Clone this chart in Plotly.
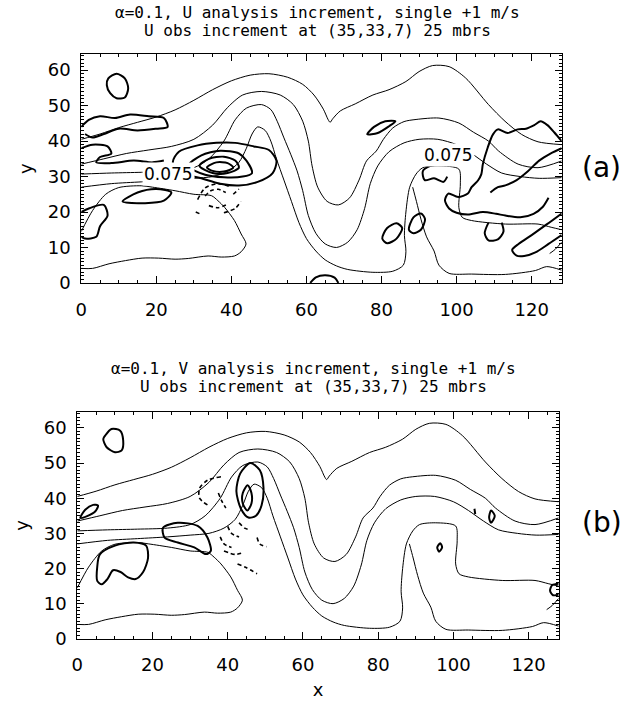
import plotly.graph_objects as go

# ---------------- background (thin) contours, shared by both panels: (x, y)
BG1 = [(0,40.5),(5,42),(10,43.8),(15,45.3),(20,46.8),(25,48.8),(30,51.5),(35,54.5),(40,57),(45,58.6),(50,59),
       (55,58),(59,56),(62,53),(64.5,49),(65.8,46),(66.3,45.3),(67,46.3),(69,48.5),(73,50.5),(77.7,53),(82,54.5),
       (86.5,56.8),(90,59.6),(93.6,61.3),(98,61),(102.4,57.8),(108.5,50.3),(112.9,45.6),(117.3,41.9),
       (121.7,39.8),(128,39)]
BG2 = [(0,33.5),(6,35),(12,36.5),(18,37.5),(24,38.5),(30,40.5),(35,44.5),(39,49.5),(43,53),(48,54),(53,53),
       (56.5,50.3),(59,45.6),(60.5,40),(61.5,33),(63,27),(65.5,23),(68.5,22),(71.5,24),(74,29),(76,34.4),
       (78.6,37.2),(80.5,40.5),(83,43.7),(86,45.5),(89.2,46.1),(95.3,46.5),(100.6,45.1),(104.5,42.5),(108.5,40),
       (111.2,37.2),(116.4,33.5),(121.7,32.5),(128,34.4)]
BG3 = [(0,30.7),(8,31),(16,31.2),(24,31.5),(30,32.5),(34,35),(38,40),(41,46),(44,49.3),(48,50.3),(50.5,48.9),
       (52.2,45.6),(54,40.9),(55.8,36.3),(57.5,31.6),(59,26),(60.5,19),(62.5,14),(65,11),(68,10),(71,11.5),
       (73.5,15),(75.5,21),(77,28),(79,33),(82,37),(86,39.5),(90,40.5),(95,40.5),(100,39),(104,36.5),(108,33.5),
       (112,31),(117,30),(122,29.5),(128,29.7)]
BG4 = [(0,27),(8,28),(16,28.5),(24,29),(30,29.5),(35,30),(39,31.5),(42,34),(44,38),(45.5,42),(47,44),(49,43),
       (50.5,40),(52,35),(54,29),(56,23),(58,17),(60,12.5),(62.5,9),(65,6.5),(68,4.8),(71,3.8),(77.7,3),(83,3.3),
       (85.8,5),(86.5,8.8),(86.1,13.4),(86.5,20),(87.5,27),(89.2,30.7),(91,32.5),(95.3,33),(100.6,32.1),
       (101,27.9),(100.6,21.3),(101.5,18.5),(104,17.6),(113,16.6),(121.7,16.6),(125.2,15.7),(128,15)]
BG5 = [(0,14.5),(3,20.4),(6.5,25),(10,26.9),(16,27.4),(19,27),(25,26),(30,25),(34.7,24.6),(36.4,23.2),
       (38.2,21.3),(40.8,17.6),(42.6,13.8),(43.9,11),(42.6,8.8),(40.8,7.6),(37.3,7.3),(33.8,7.6),(28.5,6.9),
       (25,6.7),(20.6,7),(16.2,7),(11.8,6.3),(7.4,5.4),(3,4.1),(0,4.1)]
BG6 = [(128,3.6),(124,4.6),(121,3.5),(113,2.4),(104,2.5),(98,2.7),(95.3,5),(94,9),(92,13),(90.5,18),(89.3,23),
       (88.3,27)]
BG7 = [(128,11.5),(126.3,9.5),(124.8,8.3)]
BACKGROUND = [BG1, BG2, BG3, BG4, BG5, BG6, BG7]

# ---------------- panel (a): U analysis increment (thick); solid = positive, dashed = negative
A_POS = [
    [(7.2,57.7),(9.4,59),(11.6,57.7),(12.5,54.9),(11.6,52.3),(9.4,52.1),(7.7,53.5),(6.8,55.8),(7.2,57.7)],
    [(0,44),(2,46),(5,47),(9,46.5),(13,47.5),(18,47),(22,46.5),(23,44),(20,43.5),(15,43),(10,43.5),(6,42),
     (3,41),(1,42)],
    [(0,38),(3,39),(7,38.5),(8,36.5),(5,35.5),(4,34),(8,33.8),(14,34.5),(19,34),(22,34.5)],
    [(24.4,34),(26,37),(31,38.8),(36,39.5),(41,39.5),(46,38.5),(50,37.5),(52,34.5),(51,31),(47,28.5),(42,27.5),
     (37,28),(32,29.5),(27,31),(24.4,34)],
    [(28.5,33),(32,36),(37,37.3),(42,36.5),(44,34.5),(45.5,31),(43,30),(38,29.8),(33,30.5),(28.5,33)],
    [(31.5,33),(34,35),(38,35.6),(41,34.5),(42,32.5),(39,31),(35,31),(31.5,33)],
    [(33.5,32.6),(36,34),(39,33.8),(40.5,32.5),(38,31.4),(35,31.6),(33.5,32.6)],
    [(11,23),(15,25.5),(20,26.5),(24,25.5),(22,23.2),(17,22.5),(11,23)],
    [(0,20),(2,21),(6,22),(7,19),(5,16),(4,13),(1,12.5),(0,13)],
    [(61,0),(62.5,1.6),(65,2.2),(67.5,1.5),(68.5,0)],
    [(76.2,41.9),(78,44),(81,45.6),(83.7,45.6),(82,44.2),(79,42.3),(76.2,41.9)],
    [(80.2,12.5),(81.5,15.5),(84,16.8),(85.5,15.5),(84,12.5),(81.5,11.2),(80.2,12.5)],
    [(87.3,15),(88.5,18.5),(90.5,19.6),(91.6,18),(90.5,15),(88.5,14),(87.3,15)],
    [(128,40),(126,42.5),(124.2,44.5),(122.4,45.6),(120.7,44.5),(118.5,43.5),(116.3,43.3),(113.6,42.3),
     (111,43.3),(109.7,41.9),(108.3,38.2),(107,33.5),(106.6,30.7),(105.7,28.9),(104,27),(103,25.2),
     (100.4,24.2),(97.8,25.2),(96.9,23.3),(98,21),(100,19.8),(103,19.3),(107,20),(110.5,19.5),(113,19),
     (117,18.5),(120.5,19.5),(123,21.5),(124.5,24)],
    [(128,38),(125,36.5),(122,34.5),(119,31.5),(116,29),(113,27.5),(111,27),(109,25.5)],
    [(96,33.5),(93,33),(91,31.5),(91.5,29),(94,29.5),(96.5,28.5),(97.5,30)],
    [(108.5,17),(107.5,14),(108.5,12),(111,12.3),(112.5,14.5),(112,17)],
    [(128,19.6),(124,16.5),(120,13.5),(116.5,11),(114.8,9.3),(116,7.7),(118,7.6),(121,8.6),(124.5,11),
     (128,13.5)],
]
A_NEG = [
    [(33,24.5),(34.5,26),(36.5,26.4),(38.5,25.5)],
    [(31,23.5),(33,26.8),(36.5,28),(40,27)],
    [(34,21.8),(36.5,21.2),(39,22.2)],
    [(30.5,20),(32,19.3)],
    [(38,19.8),(41,21),(42.5,23)],
    [(40.5,25),(42,26.5)],
]
A_LABELS = [("0.075", 23.3, 30.7), ("0.075", 97.8, 36.2)]

# ---------------- panel (b): V analysis increment
B_POS = [
    [(7.4,57.8),(9.1,59.7),(11.4,59.2),(12.2,56.4),(11.8,53.6),(10,53.1),(7.8,54.5),(6.9,56.8),(7.4,57.8)],
    [(0.8,34.4),(2.1,36.7),(4.2,38.1),(5.5,37.9),(4.8,36.3),(2.6,34.9),(0.8,34.4)],
    [(6,24),(10,26.5),(15,27.4),(18.3,26.5),(18.8,23),(17.5,19),(15.5,17),(13.5,17.5),(11.5,19),(9.5,19.5),
     (8,17),(6.5,15.5),(5.3,16.5),(5.3,20.5),(6,24)],
    [(22.8,31.6),(26.7,33),(32,32.1),(34.6,28.8),(35.5,25),(34.2,24.1),(31.1,26),(26.7,27.4),(23.2,28.8),
     (22.8,31.6)],
    [(46,50),(48.5,48),(49.5,43),(49,38),(47.5,35),(45.5,34.5),(43.5,37),(42.3,42),(43.3,47),(46,50)],
    [(45.3,43.7),(46.3,41.5),(46.3,38.5),(45.2,36.5),(44,38.5),(44,41.5),(45.3,43.7)],
    [(96.5,27.2),(97,26),(96.2,24.8),(95.7,26),(96.5,27.2)],
    [(110,36.5),(111,35),(110,33),(109.5,34.5),(110,36.5)],
    [(105.6,37),(105.8,35.5)],
    [(128,15.7),(126.3,15.3),(125.7,13.7),(126.5,12.4),(128,12.6)],
]
B_NEG = [
    [(38.2,46.1),(34.6,45.1),(32.5,42.8),(32.5,40),(34.6,38.1)],
    [(37.5,41.5),(38.5,39),(39.5,37.2)],
    [(40,32),(41,30),(43,29)],
    [(38,29),(39,27),(41,26)],
    [(39,25),(42,24),(44,24.5)],
    [(42.6,21.3),(45,20.2),(47.8,18.5)],
    [(43,33),(44.5,31.5),(46,31)],
    [(47.8,28.8),(48.5,27),(50.3,26.2)],
]

FONT = "DejaVu Sans"
TFONT = "DejaVu Sans Mono"
fig = go.Figure()


def add_line(pts, panel, width, dash="solid"):
    xs = [p[0] for p in pts]
    ys = [p[1] for p in pts]
    fig.add_trace(go.Scatter(
        x=xs, y=ys, mode="lines",
        line=dict(color="black", width=width, dash=dash, shape="spline", smoothing=0.8),
        xaxis="x" if panel == 0 else "x2", yaxis="y" if panel == 0 else "y2",
        hoverinfo="skip", showlegend=False))


for panel in (0, 1):
    for ln in BACKGROUND:
        add_line(ln, panel, 1.0)
for ln in A_POS:
    add_line(ln, 0, 2.0)
for ln in A_NEG:
    add_line(ln, 0, 1.6, "4px,3px")
for ln in B_POS:
    add_line(ln, 1, 2.0)
for ln in B_NEG:
    add_line(ln, 1, 1.6, "4px,3px")

for txt, lx, ly in A_LABELS:
    fig.add_annotation(x=lx, y=ly, xref="x", yref="y", text=txt, showarrow=False,
                       font=dict(family=FONT, size=17, color="black"), bgcolor="white")

W, H = 632, 706
axis_common = dict(showline=True, linecolor="black", linewidth=1, mirror="ticks", ticks="inside",
                   ticklen=7, tickcolor="black", tickwidth=1, showgrid=False, zeroline=False,
                   tickfont=dict(family=FONT, size=18, color="black"))
x_ticks = [0, 20, 40, 60, 80, 100, 120]
y_ticks = [0, 10, 20, 30, 40, 50, 60]


def xaxis(dom, anchor, title=None):
    d = dict(axis_common, domain=dom, range=[0, 128], tickvals=x_ticks, anchor=anchor,
             ticklabelstandoff=10,
             minor=dict(ticks="inside", dtick=5, ticklen=3, tickcolor="black", showgrid=False))
    if title:
        d["title"] = dict(text=title, font=dict(family=FONT, size=18, color="black"), standoff=8)
    return d


def yaxis(dom, anchor):
    return dict(axis_common, domain=dom, range=[0, 64.5], tickvals=y_ticks, anchor=anchor,
                ticklabelstandoff=6,
                minor=dict(ticks="inside", dtick=1, ticklen=3, tickcolor="black", showgrid=False),
                title=dict(text="y", font=dict(family=FONT, size=18, color="black"), standoff=10))


fig.update_layout(
    width=W, height=H, margin=dict(l=0, r=0, t=0, b=0),
    paper_bgcolor="white", plot_bgcolor="white",
    xaxis=xaxis([76 / W, 561 / W], "y"),
    yaxis=yaxis([1 - 287 / H, 1 - 55 / H], "x"),
    xaxis2=xaxis([72 / W, 558 / W], "y2", "x"),
    yaxis2=yaxis([1 - 648 / H, 1 - 418 / H], "x2"),
)

titles = [
    ("\u03b1=0.1, U analysis increment, single +1 m/s", 314, 12.5),
    ("U obs increment at (35,33,7) 25 mbrs", 314, 31),
    ("\u03b1=0.1, V analysis increment, single +1 m/s", 310, 374),
    ("U obs increment at (35,33,7) 25 mbrs", 310, 392.5),
]
for txt, px, py in titles:
    fig.add_annotation(x=px / W, y=1 - py / H, xref="paper", yref="paper", text=txt, showarrow=False,
                       xanchor="center", yanchor="middle", font=dict(family=TFONT, size=16, color="black"))
for txt, px, py in [("(a)", 601, 170), ("(b)", 602, 530)]:
    fig.add_annotation(x=px / W, y=1 - py / H, xref="paper", yref="paper", text=txt, showarrow=False,
                       xanchor="center", yanchor="middle", font=dict(family=FONT, size=28, color="black"))

fig.write_html("out.html")
